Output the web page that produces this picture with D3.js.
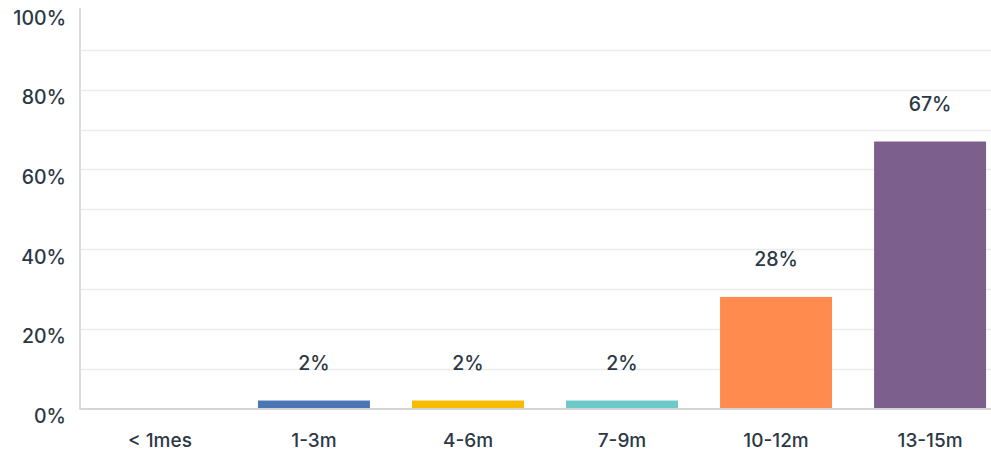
<!DOCTYPE html>
<html>
<head>
<meta charset="utf-8">
<script src="https://cdn.jsdelivr.net/npm/d3@7"></script>
<style>
  html, body { margin: 0; padding: 0; background: #fff; }
  svg { display: block; }
  text { font-family: Inter, "Open Sans", sans-serif; font-weight: 500; fill: #2c3845; }
</style>
</head>
<body>
<svg id="chart" width="991" height="453"></svg>
<script>
const categories = ["< 1mes", "1-3m", "4-6m", "7-9m", "10-12m", "13-15m"];
const values = [0, 2, 2, 2, 28, 67];
const valueLabels = ["", "2%", "2%", "2%", "28%", "67%"];
const colors = ["#4a77b4", "#4a77b4", "#f7bb00", "#6cc9c9", "#ff8b4e", "#7d5f8e"];
const yTicks = [0, 20, 40, 60, 80, 100];
const yTickLabels = ["0%", "20%", "40%", "60%", "80%", "100%"];
const gridTicks = [10, 20, 30, 40, 50, 60, 70, 80, 90];

const svg = d3.select("#chart");
const W = 991;
const axisX = 80;

const y = d3.scaleLinear().domain([0, 100]).range([408.5, 10]);
const x = d3.scaleBand().domain(categories).range([83, 1007]).paddingInner(0.273).paddingOuter(0.136);

// gridlines
svg.append("g").selectAll("line").data(gridTicks).join("line")
  .attr("x1", axisX).attr("x2", W)
  .attr("y1", d => Math.round(y(d)) + 0.5).attr("y2", d => Math.round(y(d)) + 0.5)
  .attr("stroke", "#ececec").attr("stroke-width", 1.5);

// bars
svg.append("g").selectAll("rect").data(values).join("rect")
  .attr("x", (d, i) => x(categories[i]))
  .attr("width", x.bandwidth())
  .attr("y", d => y(d))
  .attr("height", d => y(0) - y(d))
  .attr("fill", (d, i) => colors[i]);

// baseline axis
svg.append("line")
  .attr("x1", axisX).attr("x2", W)
  .attr("y1", y(0) + 0.5).attr("y2", y(0) + 0.5)
  .attr("stroke", "#d6d6d6").attr("stroke-width", 2);

// y axis line
svg.append("line")
  .attr("x1", axisX).attr("x2", axisX)
  .attr("y1", 8).attr("y2", y(0) + 1.5)
  .attr("stroke", "#dcdcdc").attr("stroke-width", 2);

// y tick labels
svg.append("g").selectAll("text").data(yTicks).join("text")
  .attr("x", 66)
  .attr("y", d => y(d) + 14.5)
  .attr("text-anchor", "end")
  .attr("font-size", 19.5)
  .text((d, i) => yTickLabels[i]);

// x labels
svg.append("g").selectAll("text").data(categories).join("text")
  .attr("x", d => x(d) + x.bandwidth() / 2)
  .attr("y", 447)
  .attr("text-anchor", "middle")
  .attr("font-size", 19)
  .text(d => d);

// value labels
svg.append("g").selectAll("text").data(values).join("text")
  .attr("x", (d, i) => x(categories[i]) + x.bandwidth() / 2)
  .attr("y", d => y(d) - 30.5)
  .attr("text-anchor", "middle")
  .attr("font-size", 19.5)
  .text((d, i) => valueLabels[i]);
</script>
</body>
</html>
